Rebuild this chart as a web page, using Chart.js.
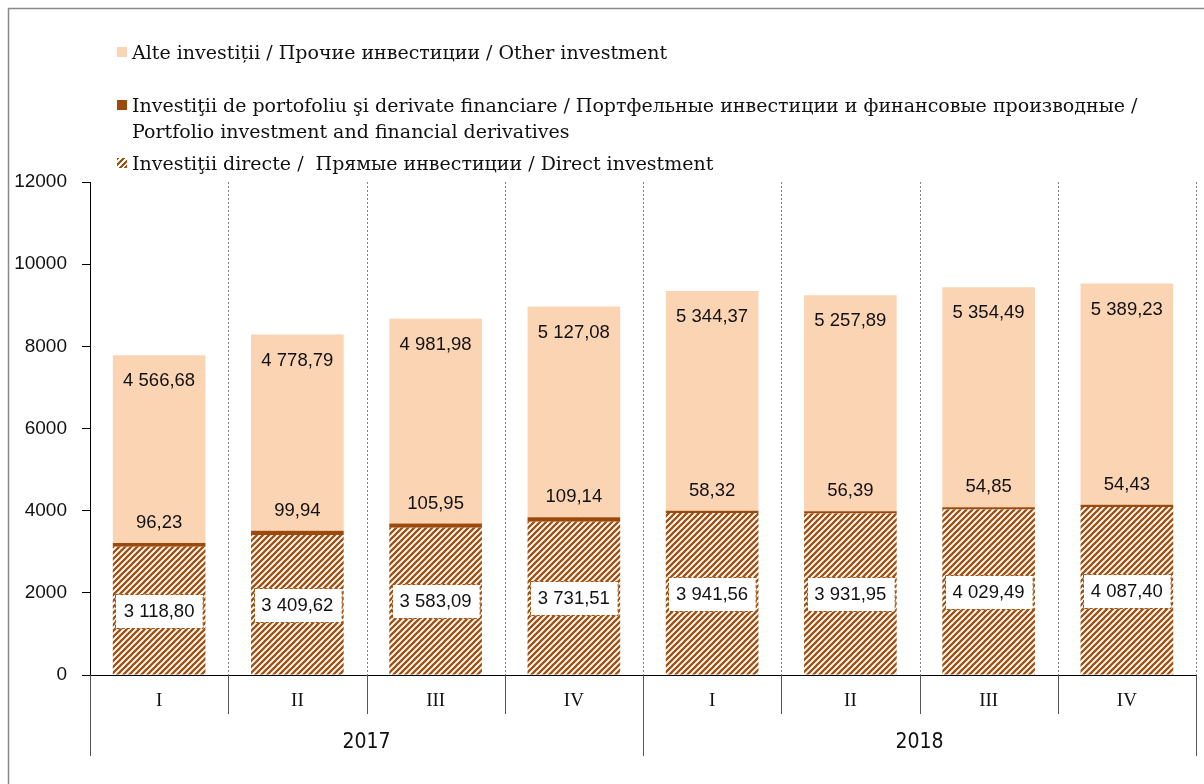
<!DOCTYPE html>
<html><head><meta charset="utf-8">
<script src="https://cdn.jsdelivr.net/npm/chart.js@4"></script>
<style>
html,body{margin:0;padding:0;background:#fff;}
#wrap{position:relative;width:1204px;height:784px;overflow:hidden;}
canvas{position:absolute;left:0;top:0;}
.leg{position:absolute;left:132px;font-family:'DejaVu Serif',serif;font-size:19px;color:#111;line-height:26px;white-space:nowrap;}
.sw{position:absolute;left:117px;width:10px;height:10px;}
</style></head>
<body><div id="wrap"><canvas id="c" width="1204" height="784"></canvas>
<div class="sw" style="top:47px;background:#FBD4B4"></div>
<div class="leg" style="top:39px">Alte investiții / Прочие инвестиции / Other investment</div>
<div class="sw" style="top:100px;background:#9C4A0B"></div>
<div class="leg" style="top:92px">Investiţii de portofoliu şi derivate financiare / Портфельные инвестиции и финансовые производные /<br>Portfolio investment and financial derivatives</div>
<div class="sw" style="top:158px;background:repeating-linear-gradient(135deg,#A0500F 0 2px,#fff 2px 4px)"></div>
<div class="leg" style="top:150px">Investiţii directe /&nbsp; Прямые инвестиции / Direct investment</div>
</div>
<script>
const quarters = ['I','II','III','IV','I','II','III','IV'];
const years = ['2017','2018'];
const direct = [3118.80,3409.62,3583.09,3731.51,3941.56,3931.95,4029.49,4087.40];
const portfolio = [96.23,99.94,105.95,109.14,58.32,56.39,54.85,54.43];
const other = [4566.68,4778.79,4981.98,5127.08,5344.37,5257.89,5354.49,5389.23];
const yMin = 0, yMax = 12000, yStep = 2000;

const BROWN = '#A0500F';
const canvas = document.getElementById('c');
const ctx = canvas.getContext('2d');

function makeHatch(color){
  const p = document.createElement('canvas'); p.width = 6; p.height = 6;
  const g = p.getContext('2d');
  g.fillStyle = '#fff'; g.fillRect(0,0,6,6);
  g.strokeStyle = color; g.lineWidth = 2.3;
  g.beginPath();
  g.moveTo(-1,7); g.lineTo(7,-1);
  g.moveTo(-4,4); g.lineTo(4,-4);
  g.moveTo(2,10); g.lineTo(10,2);
  g.stroke();
  return ctx.createPattern(p,'repeat');
}

function fmt(v){
  const s = v.toFixed(2).split('.');
  const int = s[0].replace(/\B(?=(\d{3})+(?!\d))/g,' ');
  return int + ',' + s[1];
}

const SANS = "'Liberation Sans', Arial, sans-serif";
const NARROW = "'Liberation Sans Narrow', 'DejaVu Sans Condensed', sans-serif";
const SERIF = "'Liberation Serif', 'DejaVu Serif', serif";

const framePlugin = {
  id:'frame',
  beforeDraw(chart){
    const c = chart.ctx;
    c.save();
    c.fillStyle = '#fff'; c.fillRect(0,0,chart.width,chart.height);
    c.strokeStyle = '#8a8a8a'; c.lineWidth = 1.5;
    c.beginPath();
    c.moveTo(8.5, chart.height); c.lineTo(8.5, 8.5); c.lineTo(chart.width, 8.5);
    c.stroke();
    c.restore();
  }
};

const axisPlugin = {
  id:'axisDeco',
  beforeDatasetsDraw(chart){
    const c = chart.ctx, xs = chart.scales.x, a = chart.chartArea;
    const n = quarters.length, w = (xs.right - xs.left)/n;
    c.save();
    c.strokeStyle = '#808080'; c.lineWidth = 1; c.setLineDash([2,2]);
    for(let i=1;i<=n;i++){
      const bx = Math.round(xs.left + i*w) + 0.5;
      c.beginPath(); c.moveTo(bx, a.top); c.lineTo(bx, a.bottom); c.stroke();
    }
    c.restore();
  },
  afterDraw(chart){
    const c = chart.ctx, xs = chart.scales.x, a = chart.chartArea;
    const n = quarters.length, w = (xs.right - xs.left)/n;
    const per = n / years.length;
    c.save();
    c.strokeStyle = '#555'; c.lineWidth = 1;
    for(let i=0;i<=n;i++){
      const bx = Math.round(xs.left + i*w) + 0.5;
      const len = (i % per === 0) ? 81 : 39;
      c.beginPath(); c.moveTo(bx, a.bottom); c.lineTo(bx, a.bottom + len); c.stroke();
    }
    c.fillStyle = '#111'; c.textAlign = 'center'; c.textBaseline = 'middle';
    c.font = "19px " + SERIF;
    quarters.forEach((q,i)=>{ c.fillText(q, xs.getPixelForValue(i), a.bottom + 26); });
    c.font = "21px " + NARROW;
    years.forEach((y,j)=>{
      const x0 = xs.left + j*per*w, x1 = xs.left + (j+1)*per*w;
      c.fillText(y, (x0+x1)/2, a.bottom + 68);
    });
    c.restore();
  }
};

const labelPlugin = {
  id:'valLabels',
  afterDatasetsDraw(chart){
    const c = chart.ctx;
    c.save();
    c.textAlign = 'center'; c.textBaseline = 'middle';
    c.font = "18.5px " + SANS;
    const m0 = chart.getDatasetMeta(0), m1 = chart.getDatasetMeta(1), m2 = chart.getDatasetMeta(2);
    m0.data.forEach((el,i)=>{
      const cy = (el.y + el.base)/2;
      const bw = el.width - 5, bh = 34;
      const x0 = Math.round(el.x - bw/2) + 0.5, y0 = Math.round(cy - bh/2) + 0.5;
      c.fillStyle = '#fff'; c.fillRect(x0, y0, bw, bh);
      c.setLineDash([3,2]); c.strokeStyle = BROWN; c.lineWidth = 1;
      c.strokeRect(x0, y0, bw, bh); c.setLineDash([]);
      c.fillStyle = '#111'; c.fillText(fmt(direct[i]), el.x, cy + 1);
    });
    m1.data.forEach((el,i)=>{
      c.fillStyle = '#111'; c.fillText(fmt(portfolio[i]), el.x, el.y - 20);
    });
    m2.data.forEach((el,i)=>{
      c.fillStyle = '#111'; c.fillText(fmt(other[i]), el.x, el.y + 26);
    });
    c.restore();
  }
};

new Chart(canvas, {
  type:'bar',
  data:{
    labels: quarters,
    datasets:[
      {label:'Investiţii directe', data: direct, backgroundColor: makeHatch(BROWN), borderWidth:0},
      {label:'Investiţii de portofoliu', data: portfolio, backgroundColor:'#9C4A0B', borderWidth:0},
      {label:'Alte investiții', data: other, backgroundColor:'#FBD4B4', borderWidth:0}
    ]
  },
  options:{
    responsive:false, animation:false, devicePixelRatio:1,
    layout:{padding:{left:0, top:182, right:8, bottom:0}},
    plugins:{legend:{display:false}, tooltip:{enabled:false}},
    datasets:{bar:{categoryPercentage:1, barPercentage:0.67}},
    scales:{
      x:{stacked:true, grid:{display:false}, ticks:{display:false},
         border:{display:true, color:'#000', width:1},
         afterFit(s){ s.height = 109; }},
      y:{stacked:true, min:yMin, max:yMax,
         ticks:{stepSize:yStep, padding:15, color:'#111', font:{family:SANS, size:19},
                callback:(v)=>String(v)},
         grid:{drawOnChartArea:false, drawTicks:true, tickLength:8, color:'#000'},
         border:{display:true, color:'#000', width:1},
         afterFit(s){ s.width = 90; }}
    }
  },
  plugins:[framePlugin, axisPlugin, labelPlugin]
});
</script>
</body></html>
